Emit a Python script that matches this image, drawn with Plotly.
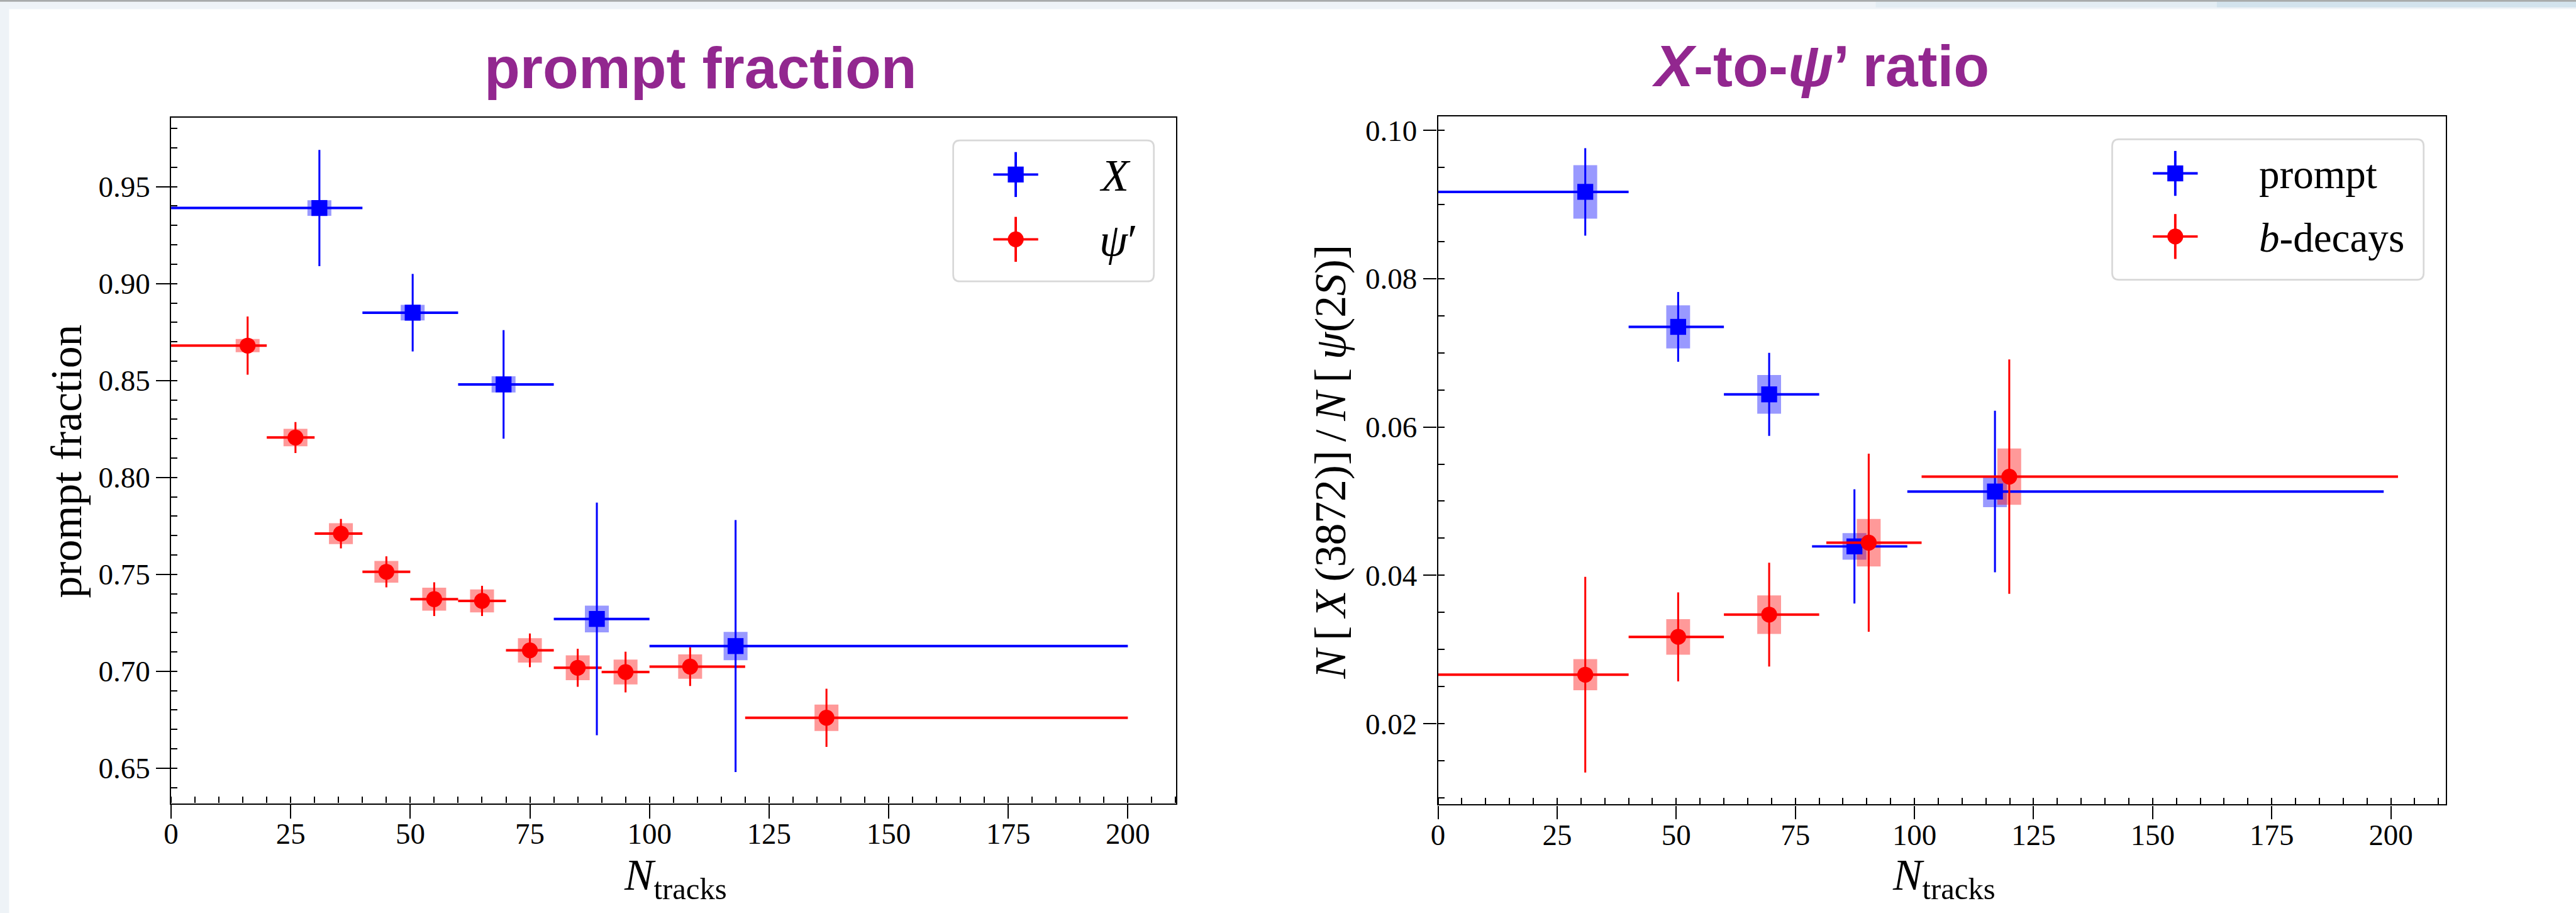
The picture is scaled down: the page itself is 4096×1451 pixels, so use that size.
import plotly.graph_objects as go

# ---------------- data ----------------
# prompt fraction vs N_tracks
X_N = [31.0, 50.5, 69.5, 89.0, 118.0]
X_BIN_LO = [0, 40, 60, 80, 100]
X_BIN_HI = [40, 60, 80, 100, 200]
X_FRAC = [0.939, 0.885, 0.848, 0.727, 0.713]
X_STAT = [0.030, 0.020, 0.028, 0.060, 0.065]
X_SYST = [0.0040, 0.0040, 0.0042, 0.0069, 0.0073]

PSI_N = [16.0, 26.0, 35.5, 45.0, 55.0, 65.0, 75.0, 85.0, 95.0, 108.5, 137.0]
PSI_BIN_LO = [0, 20, 30, 40, 50, 60, 70, 80, 90, 100, 120]
PSI_BIN_HI = [20, 30, 40, 50, 60, 70, 80, 90, 100, 120, 200]
PSI_FRAC = [0.868, 0.8206, 0.771, 0.7513, 0.7372, 0.7363, 0.7108, 0.7018, 0.6996, 0.7024, 0.6760]
PSI_STAT = [0.015, 0.008, 0.0076, 0.008, 0.0087, 0.0078, 0.0087, 0.0098, 0.0105, 0.010, 0.015]
PSI_SYST = [0.0034, 0.0045, 0.0054, 0.0056, 0.0059, 0.0059, 0.0063, 0.0064, 0.0064, 0.0063, 0.0068]

# X(3872)-to-psi(2S) ratio vs N_tracks
PR_N = [30.9, 50.4, 69.5, 87.4, 116.9]
PR_BIN_LO = [0, 40, 60, 78.5, 98.5]
PR_BIN_HI = [40, 60, 80, 98.5, 198.5]
PR_RATIO = [0.0917, 0.0735, 0.0644, 0.0439, 0.0513]
PR_STAT = [0.0059, 0.0047, 0.0056, 0.0077, 0.0109]
PR_SYST = [0.0036, 0.0029, 0.0026, 0.0018, 0.0021]

BD_N = [30.9, 50.4, 69.5, 90.4, 119.9]
BD_BIN_LO = [0, 40, 60, 81.5, 101.5]
BD_BIN_HI = [40, 60, 80, 101.5, 201.5]
BD_RATIO = [0.0266, 0.0317, 0.0347, 0.0444, 0.0533]
BD_STAT = [0.0132, 0.0060, 0.0070, 0.0120, 0.0158]
BD_SYST = [0.0021, 0.0024, 0.0026, 0.0032, 0.0038]

X_TICKS = [0, 25, 50, 75, 100, 125, 150, 175, 200]

# ---------------- geometry (design units: 4532 x 1606 canvas) ----------------
DW, DH = 4532.0, 1606.0
W, H = 4096, 1451
S = W / DW

BLUE = "#0000FF"
RED = "#FF0000"
BLUE_BOX = "rgba(0,0,255,0.40)"
RED_BOX = "rgba(255,0,0,0.40)"
TITLE_PURPLE = "#92278F"
SERIF = "Liberation Serif, Times New Roman, serif"
SANS = "Liberation Sans, Arial, Helvetica, sans-serif"

BOX_HALF_WIDTH = 2.5  # half-width of systematic boxes, in N_tracks units

MARKER = 28 * S
EX_THICK = 4.4 * S
EY_THICK = 3.4 * S
THIN = "\u2009"


def fx(px):
    return px / DW


def fy(py):
    return 1 - py / DH


def series(xs, lo, hi, ys, stat, color, symbol, xa, ya):
    return go.Scatter(
        x=xs, y=ys, xaxis=xa, yaxis=ya, mode="markers",
        marker=dict(symbol=symbol, size=MARKER, color=color, line=dict(width=0)),
        error_x=dict(type="data", symmetric=False,
                     array=[h - x for h, x in zip(hi, xs)],
                     arrayminus=[x - l for x, l in zip(xs, lo)],
                     color=color, thickness=EX_THICK, width=0),
        error_y=dict(type="data", array=stat, color=color,
                     thickness=EY_THICK, width=0),
        hoverinfo="x+y", showlegend=False,
    )


def syst_boxes(xs, ys, syst, color, xref, yref):
    return [
        dict(type="rect", xref=xref, yref=yref,
             x0=x - BOX_HALF_WIDTH, x1=x + BOX_HALF_WIDTH,
             y0=y - s, y1=y + s, fillcolor=color, line=dict(width=0), layer="below")
        for x, y, s in zip(xs, ys, syst)
    ]


fig = go.Figure()

# left panel: psi' underneath, X on top
fig.add_trace(series(PSI_N, PSI_BIN_LO, PSI_BIN_HI, PSI_FRAC, PSI_STAT, RED, "circle", "x", "y"))
fig.add_trace(series(X_N, X_BIN_LO, X_BIN_HI, X_FRAC, X_STAT, BLUE, "square", "x", "y"))
# right panel: prompt underneath, b-decays on top
fig.add_trace(series(PR_N, PR_BIN_LO, PR_BIN_HI, PR_RATIO, PR_STAT, BLUE, "square", "x2", "y2"))
fig.add_trace(series(BD_N, BD_BIN_LO, BD_BIN_HI, BD_RATIO, BD_STAT, RED, "circle", "x2", "y2"))

shapes = []
shapes += syst_boxes(PSI_N, PSI_FRAC, PSI_SYST, RED_BOX, "x", "y")
shapes += syst_boxes(X_N, X_FRAC, X_SYST, BLUE_BOX, "x", "y")
shapes += syst_boxes(PR_N, PR_RATIO, PR_SYST, BLUE_BOX, "x2", "y2")
shapes += syst_boxes(BD_N, BD_RATIO, BD_SYST, RED_BOX, "x2", "y2")

# slide frame strips along the top and left edges
shapes += [
    dict(type="rect", xref="paper", yref="paper", x0=0, x1=1, y0=fy(16), y1=1,
         fillcolor="#EEF3F7", line=dict(width=0), layer="below"),
    dict(type="rect", xref="paper", yref="paper", x0=0, x1=fx(16), y0=0, y1=1,
         fillcolor="#EEF3F7", line=dict(width=0), layer="below"),
    dict(type="rect", xref="paper", yref="paper", x0=fx(3300), x1=fx(3900), y0=fy(13), y1=1,
         fillcolor="#E3EDF3", line=dict(width=0), layer="below"),
    dict(type="rect", xref="paper", yref="paper", x0=fx(3900), x1=1, y0=fy(13), y1=1,
         fillcolor="#D2E3ED", line=dict(width=0), layer="below"),
    dict(type="rect", xref="paper", yref="paper", x0=0, x1=1, y0=fy(3), y1=1,
         fillcolor="#A8ABAB", line=dict(width=0), layer="below"),
]


def rounded_rect(x0, y0, x1, y1, r):
    return (f"M{x0 + r},{y0} L{x1 - r},{y0} Q{x1},{y0} {x1},{y0 + r} "
            f"L{x1},{y1 - r} Q{x1},{y1} {x1 - r},{y1} L{x0 + r},{y1} "
            f"Q{x0},{y1} {x0},{y1 - r} L{x0},{y0 + r} Q{x0},{y0} {x0 + r},{y0} Z")


# legend frames (drawn on a full-canvas overlay axis in design units)
LEGENDS = [
    dict(box=(1677, 247, 2030, 495), mx=1787, rows=(307, 421), tx=1932, size=80,
         entries=(("<i>X</i>", BLUE, "square"), ("<i>ψ</i>′", RED, "circle"))),
    dict(box=(3716, 245, 4264, 492), mx=3827, rows=(305, 416), tx=3972, size=72,
         entries=(("prompt", BLUE, "square"), ("<i>b</i>-decays", RED, "circle"))),
]

annotations = []
for lg in LEGENDS:
    x0, y0, x1, y1 = lg["box"]
    shapes.append(dict(type="path", xref="x3", yref="y3", path=rounded_rect(x0, y0, x1, y1, 12),
                       fillcolor="white", line=dict(color="#D8D8D8", width=3 * S), layer="below"))
    for (label, color, symbol), ry in zip(lg["entries"], lg["rows"]):
        fig.add_trace(go.Scatter(
            x=[lg["mx"]], y=[ry], xaxis="x3", yaxis="y3", mode="markers",
            marker=dict(symbol=symbol, size=MARKER, color=color, line=dict(width=0)),
            error_x=dict(type="constant", value=39.5, color=color, thickness=4.3 * S, width=0),
            error_y=dict(type="constant", value=39.5, color=color, thickness=4.3 * S, width=0),
            hoverinfo="skip", showlegend=False,
        ))
        annotations.append(dict(xref="x3", yref="y3", x=lg["tx"], y=ry + 2, text=label,
                                showarrow=False, xanchor="left", yanchor="middle",
                                font=dict(family=SERIF, size=lg["size"] * S, color="black")))

# panel titles
annotations += [
    dict(xref="paper", yref="paper", x=fx(1233), y=fy(120), text="<b>prompt fraction</b>",
         showarrow=False, xanchor="center", yanchor="middle",
         font=dict(family=SANS, size=103 * S, color=TITLE_PURPLE)),
    dict(xref="paper", yref="paper", x=fx(3203), y=fy(116),
         text="<b><i>X</i>-to-<i>ψ</i>’ ratio</b>",
         showarrow=False, xanchor="center", yanchor="middle",
         font=dict(family=SANS, size=103 * S, color=TITLE_PURPLE)),
]

# axis titles
LABEL_FONT = dict(family=SERIF, size=77 * S, color="black")
RATIO_LABEL = ("<i>N</i>" + THIN + "[" + THIN + "<i>X</i>" + THIN + "(3872)]" + THIN + "/"
               + THIN + "<i>N</i>" + THIN + "[" + THIN + "<i>ψ</i>(2<i>S</i>)]")
annotations += [
    dict(xref="paper", yref="paper", x=fx(117), y=fy(811), text="prompt fraction",
         textangle=-90, showarrow=False, xanchor="center", yanchor="middle", font=LABEL_FONT),
    dict(xref="paper", yref="paper", x=fx(2341), y=fy(812), text=RATIO_LABEL,
         textangle=-90, showarrow=False, xanchor="center", yanchor="middle", font=LABEL_FONT),
    dict(xref="paper", yref="paper", x=fx(1188), y=fy(1545), text="<i>N</i><sub>tracks</sub>",
         showarrow=False, xanchor="center", yanchor="middle", font=LABEL_FONT),
    dict(xref="paper", yref="paper", x=fx(3420), y=fy(1545), text="<i>N</i><sub>tracks</sub>",
         showarrow=False, xanchor="center", yanchor="middle", font=LABEL_FONT),
]

TICK_FONT = dict(family=SERIF, size=52 * S, color="black")


def axis_style(**kw):
    base = dict(
        showline=True, linecolor="black", linewidth=2.7 * S, mirror=True,
        showgrid=False, zeroline=False, ticks="outside", ticklen=24 * S,
        tickwidth=2.4 * S, tickcolor="black", tickfont=TICK_FONT, automargin=False,
    )
    base.update(kw)
    return base


def minor(dt):
    return dict(ticks="inside", ticklen=11 * S, tickwidth=2.2 * S, tickcolor="black",
                dtick=dt, showgrid=False)


fig.update_layout(
    width=W, height=H,
    margin=dict(l=0, r=0, t=0, b=0, pad=0),
    paper_bgcolor="white", plot_bgcolor="rgba(0,0,0,0)",
    showlegend=False,
    xaxis=axis_style(domain=[fx(301), fx(2069)], range=[0, 210.07], anchor="y",
                     tickmode="array", tickvals=X_TICKS, ticktext=[str(t) for t in X_TICKS],
                     ticklabelstandoff=-16, minor=minor(5)),
    yaxis=axis_style(domain=[fy(1413), fy(207)], range=[0.6319, 0.9856], anchor="x",
                     tick0=0.65, dtick=0.05, tickformat=".2f", minor=minor(0.01)),
    xaxis2=axis_style(domain=[fx(2530), fx(4303.5)], range=[0, 211.6], anchor="y2",
                      tickmode="array", tickvals=X_TICKS, ticktext=[str(t) for t in X_TICKS],
                      ticklabelstandoff=-16, minor=minor(5)),
    yaxis2=axis_style(domain=[fy(1415), fy(205)], range=[0.00911, 0.10186], anchor="x2",
                      tick0=0.0, dtick=0.02, tickformat=".2f", minor=minor(0.005)),
    xaxis3=dict(domain=[0, 1], range=[0, DW], visible=False, anchor="y3", fixedrange=True),
    yaxis3=dict(domain=[0, 1], range=[DH, 0], visible=False, anchor="x3", fixedrange=True),
    shapes=shapes,
    annotations=annotations,
)

fig.write_html("out.html", config={"displayModeBar": False})
